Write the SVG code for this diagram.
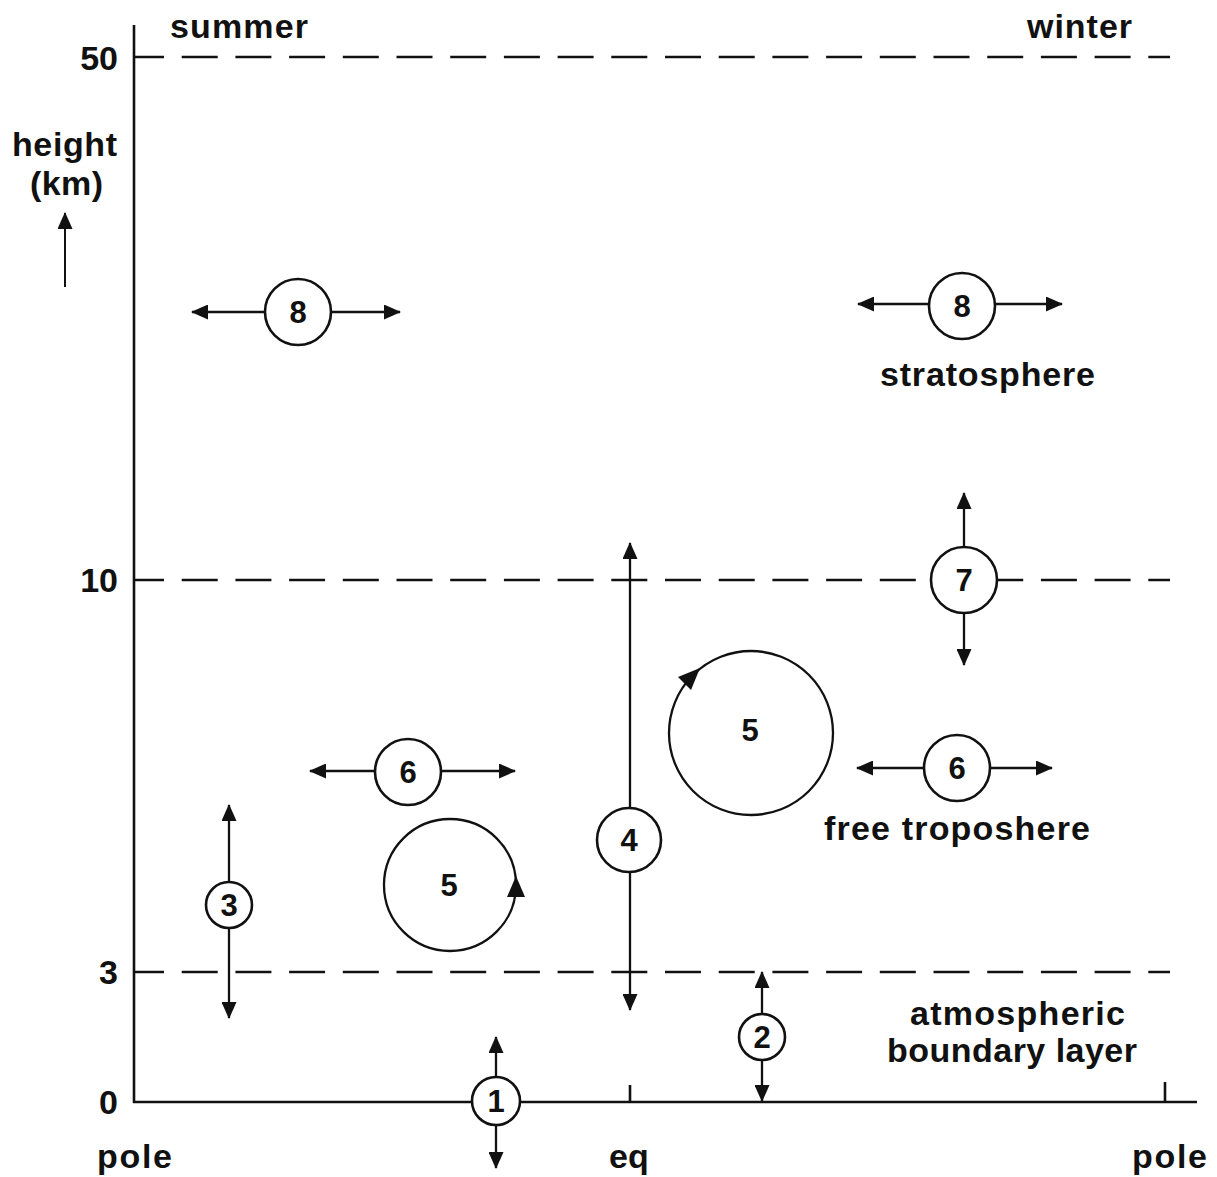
<svg xmlns="http://www.w3.org/2000/svg" width="1217" height="1177" viewBox="0 0 1217 1177">
<style>
  text { font-family: "Liberation Sans", Arial, sans-serif; font-weight: bold; fill: #111; }
  .lbl { font-size: 34px; }
  .num { font-size: 31px; text-anchor: middle; }
  .axis { stroke: #111; stroke-width: 2.6; fill: none; }
  .dash { stroke: #111; stroke-width: 2.4; fill: none; stroke-dasharray: 36 17.7; stroke-dashoffset: 6; }
  .arr { stroke: #111; stroke-width: 2.3; fill: none; marker-start: url(#ah); marker-end: url(#ah); }
  .node { stroke: #111; stroke-width: 2.6; fill: #fff; }
  .loop { stroke: #111; stroke-width: 2.3; fill: none; }
</style>
<defs>
  <marker id="ah" viewBox="0 0 17 15" refX="16" refY="7.5" markerWidth="17" markerHeight="15" markerUnits="userSpaceOnUse" orient="auto-start-reverse">
    <path d="M0,0 L17,7.5 L0,15 z" fill="#111"/>
  </marker>
</defs>
<rect width="1217" height="1177" fill="#fff"/>

<g id="axes">
  <line class="axis" x1="134" y1="25" x2="134" y2="1103"/>
  <line class="axis" x1="133" y1="1102" x2="1197" y2="1102"/>
  <line class="axis" x1="630" y1="1085" x2="630" y2="1102"/>
  <line class="axis" x1="1165" y1="1082" x2="1165" y2="1102"/>
  <line class="dash" x1="134" y1="57" x2="1170" y2="57"/>
  <line class="dash" x1="134" y1="580" x2="1170" y2="580"/>
  <line class="dash" x1="134" y1="972" x2="1170" y2="972"/>
  <text class="lbl" x="118" y="70" text-anchor="end">50</text>
  <text class="lbl" x="118" y="592" text-anchor="end">10</text>
  <text class="lbl" x="118" y="984" text-anchor="end">3</text>
  <text class="lbl" x="118" y="1114" text-anchor="end">0</text>
  <text class="lbl" x="170" y="38" textLength="138" lengthAdjust="spacing">summer</text>
  <text class="lbl" x="1027" y="38" textLength="105" lengthAdjust="spacing">winter</text>
  <text class="lbl" x="12" y="156" textLength="105" lengthAdjust="spacing">height</text>
  <text class="lbl" x="30" y="195" textLength="73" lengthAdjust="spacing">(km)</text>
  <line x1="65" y1="287" x2="65" y2="213" stroke="#111" stroke-width="2" marker-end="url(#ah)"/>
  <text class="lbl" x="97" y="1168" textLength="75" lengthAdjust="spacing">pole</text>
  <text class="lbl" x="609" y="1168">eq</text>
  <text class="lbl" x="1132" y="1168" textLength="75" lengthAdjust="spacing">pole</text>
  <text class="lbl" x="880" y="386" textLength="215" lengthAdjust="spacing">stratosphere</text>
  <text class="lbl" x="824" y="840" textLength="266" lengthAdjust="spacing">free troposhere</text>
  <text class="lbl" x="910" y="1025" textLength="215" lengthAdjust="spacing">atmospheric</text>
  <text class="lbl" x="887" y="1062" textLength="250" lengthAdjust="spacing">boundary layer</text>
</g>

<g id="connectors">
  <line class="arr" x1="192" y1="312" x2="400" y2="312"/>
  <line class="arr" x1="858" y1="304" x2="1062" y2="304"/>
  <line class="arr" x1="964" y1="493" x2="964" y2="665"/>
  <line class="arr" x1="310" y1="771" x2="515" y2="771"/>
  <line class="arr" x1="857" y1="768" x2="1052" y2="768"/>
  <line class="arr" x1="630" y1="543" x2="630" y2="1010"/>
  <line class="arr" x1="229" y1="805" x2="229" y2="1018"/>
  <line class="arr" x1="762" y1="972" x2="762" y2="1101"/>
  <line class="arr" x1="496" y1="1037" x2="496" y2="1168"/>
</g>

<g id="node-8-summer">
  <circle class="node" cx="298" cy="312" r="33"/>
  <text class="num" x="298" y="323">8</text>
</g>
<g id="node-8-winter">
  <circle class="node" cx="962" cy="306" r="33"/>
  <text class="num" x="962" y="317">8</text>
</g>
<g id="node-7">
  <circle class="node" cx="964" cy="580" r="33"/>
  <text class="num" x="964" y="591">7</text>
</g>
<g id="node-5-winter">
  <circle class="loop" cx="751" cy="733" r="82"/>
  <polygon points="700,668 691,690 678,677" fill="#111"/>
  <text class="num" x="750" y="741">5</text>
</g>
<g id="node-6-summer">
  <circle class="node" cx="408" cy="772" r="33"/>
  <text class="num" x="408" y="783">6</text>
</g>
<g id="node-6-winter">
  <circle class="node" cx="957" cy="768" r="33"/>
  <text class="num" x="957" y="779">6</text>
</g>
<g id="node-5-summer">
  <circle class="loop" cx="450" cy="885" r="66"/>
  <polygon points="516,876 507,897 525,897" fill="#111"/>
  <text class="num" x="449" y="896">5</text>
</g>
<g id="node-4">
  <circle class="node" cx="629" cy="840" r="32"/>
  <text class="num" x="629" y="851">4</text>
</g>
<g id="node-3">
  <circle class="node" cx="229" cy="905" r="23"/>
  <text class="num" x="229" y="916">3</text>
</g>
<g id="node-2">
  <circle class="node" cx="762" cy="1037" r="23"/>
  <text class="num" x="762" y="1048">2</text>
</g>
<g id="node-1">
  <circle class="node" cx="496" cy="1101" r="24"/>
  <text class="num" x="496" y="1112">1</text>
</g>
</svg>
